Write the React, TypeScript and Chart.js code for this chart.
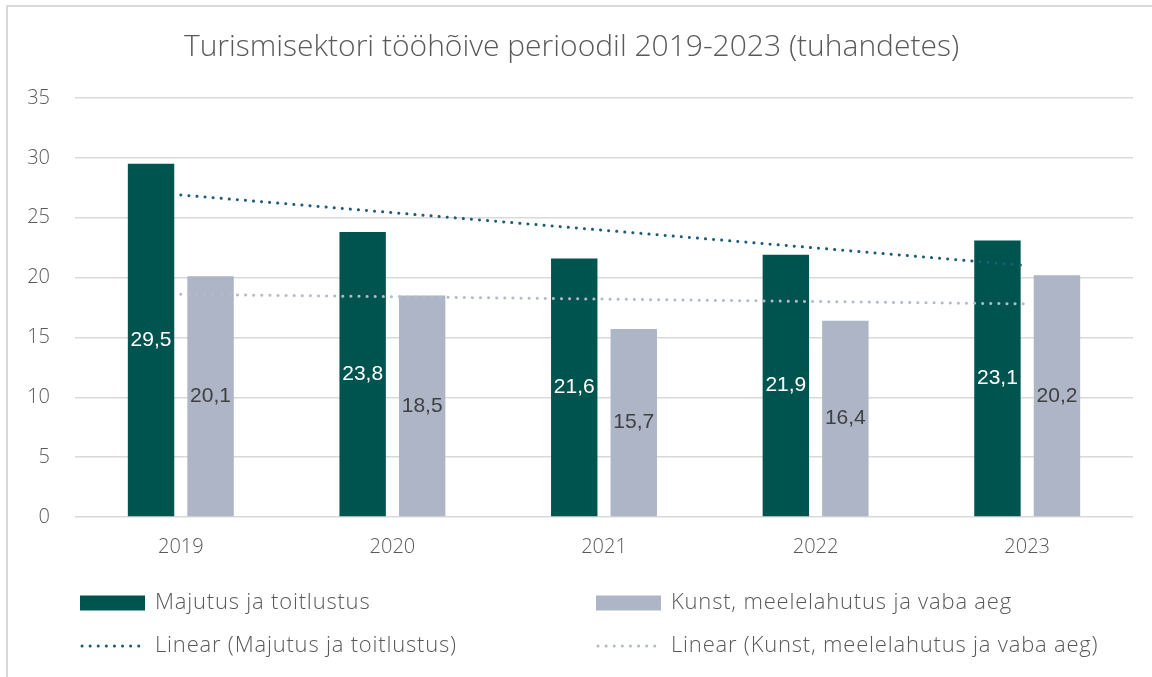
import React, { useEffect, useRef } from "react";
import { Chart, registerables } from "chart.js";

Chart.register(...registerables);

const TITLE = "Turismisektori tööhõive perioodil 2019-2023 (tuhandetes)";
const categories = ["2019", "2020", "2021", "2022", "2023"];
const majutus = [29.5, 23.8, 21.6, 21.9, 23.1];
const kunst = [20.1, 18.5, 15.7, 16.4, 20.2];
// trend lines (start at 2019, end at 2023)
const trendMajutus = [26.9, null, null, null, 21.0];
const trendKunst = [18.6, null, null, null, 17.8];
const yTicks = [0, 5, 10, 15, 20, 25, 30, 35];
const seriesNames = [
  "Majutus ja toitlustus",
  "Kunst, meelelahutus ja vaba aeg",
  "Linear (Majutus ja toitlustus)",
  "Linear (Kunst, meelelahutus ja vaba aeg)",
];

const DARK = "#005450";
const GREY = "#adb5c6";
const TREND_DARK = "#1d5c79";
const TREND_GREY = "#b3bbcb";
const TEXT = "#595959";
const GRID = "#d9d9d9";
const FONT = "'Open Sans', Lato, sans-serif";

const borderPlugin = {
  id: "outerBorder",
  beforeDraw(chart: any) {
    const ctx = chart.ctx;
    ctx.save();
    ctx.strokeStyle = GRID;
    ctx.lineWidth = 2;
    ctx.beginPath();
    ctx.moveTo(7, chart.height);
    ctx.lineTo(7, 6);
    ctx.lineTo(chart.width, 6);
    ctx.stroke();
    ctx.restore();
  },
};

const labelPlugin = {
  id: "barLabels",
  afterDatasetsDraw(chart: any) {
    const ctx = chart.ctx;
    ctx.save();
    ctx.font = "21px 'Liberation Sans', Arial, sans-serif";
    ctx.textAlign = "center";
    ctx.textBaseline = "middle";
    chart.data.datasets.forEach((ds: any, i: number) => {
      if (ds.type !== "bar") return;
      const meta = chart.getDatasetMeta(i);
      meta.data.forEach((bar: any, j: number) => {
        const v = ds.data[j];
        ctx.fillStyle = i === 0 ? "#ffffff" : "#404040";
        const y = (bar.y + bar.base) / 2;
        ctx.fillText(v.toFixed(1).replace(".", ","), bar.x, y);
      });
    });
    ctx.restore();
  },
};

const legendPlugin = {
  id: "customLegend",
  afterDraw(chart: any) {
    const ctx = chart.ctx;
    ctx.save();
    const cols = [80, 596];
    const rows = [603, 646];
    const ds = chart.data.datasets;
    ds.forEach((d: any, i: number) => {
      const x = cols[i % 2];
      const y = rows[Math.floor(i / 2)];
      if (d.type === "bar") {
        ctx.fillStyle = d.backgroundColor;
        ctx.fillRect(x, y - 7.5, 65, 15);
      } else {
        ctx.strokeStyle = d.borderColor;
        ctx.lineWidth = 3;
        ctx.lineCap = "round";
        ctx.setLineDash([0.1, 8]);
        ctx.beginPath();
        ctx.moveTo(x + 2, y);
        ctx.lineTo(x + 64, y);
        ctx.stroke();
        ctx.setLineDash([]);
      }
      ctx.fillStyle = TEXT;
      ctx.font = `300 22px ${FONT}`;
      (ctx as any).letterSpacing = "0.8px";
      ctx.textAlign = "left";
      ctx.textBaseline = "middle";
      ctx.fillText(d.label, x + 75, y);
      (ctx as any).letterSpacing = "0px";
    });
    ctx.restore();
  },
};

export default function App() {
  const ref = useRef<HTMLCanvasElement>(null);
  useEffect(() => {
    if (!ref.current) return;
    const chart = new Chart(ref.current, {
      type: "bar",
      data: {
        labels: categories,
        datasets: [
          {
            type: "bar",
            label: seriesNames[0],
            data: majutus,
            backgroundColor: DARK,
            categoryPercentage: 0.5625,
            barPercentage: 0.78,
            order: 2,
          },
          {
            type: "bar",
            label: seriesNames[1],
            data: kunst,
            backgroundColor: GREY,
            categoryPercentage: 0.5625,
            barPercentage: 0.78,
            order: 2,
          },
          {
            type: "line",
            label: seriesNames[2],
            data: trendMajutus,
            borderColor: TREND_DARK,
            borderWidth: 3,
            borderDash: [0.1, 8],
            borderCapStyle: "round",
            pointRadius: 0,
            spanGaps: true,
            fill: false,
            order: 0,
          },
          {
            type: "line",
            label: seriesNames[3],
            data: trendKunst,
            borderColor: TREND_GREY,
            borderWidth: 3,
            borderDash: [0.1, 8],
            borderCapStyle: "round",
            pointRadius: 0,
            spanGaps: true,
            fill: false,
            order: 1,
          },
        ] as any,
      },
      options: {
        animation: false,
        responsive: false,
        maintainAspectRatio: false,
        layout: { padding: { left: 10, right: 19, top: 0, bottom: 110 } },
        plugins: {
          legend: { display: false },
          tooltip: { enabled: false },
          title: {
            display: true,
            text: TITLE,
            color: TEXT,
            font: { family: FONT, size: 30, weight: "300" as any, lineHeight: 1.2 },
            padding: { top: 29, bottom: 33 },
          },
        },
        scales: {
          x: {
            offset: true,
            grid: { display: false, drawTicks: false },
            border: { display: false },
            ticks: { color: TEXT, font: { family: FONT, size: 20, weight: "300" as any }, padding: 18 },
            afterFit(scale: any) {
              scale.height = 50;
            },
          },
          y: {
            min: 0,
            max: 35,
            afterBuildTicks(scale: any) {
              scale.ticks = yTicks.map((v) => ({ value: v }));
            },
            grid: { color: GRID, lineWidth: 1.5, drawTicks: false },
            border: { display: false },
            ticks: { color: TEXT, font: { family: FONT, size: 20, weight: "300" as any }, padding: 25 },
            afterFit(scale: any) {
              scale.width = 65;
            },
          },
        },
      },
      plugins: [borderPlugin, labelPlugin, legendPlugin],
    });
    return () => chart.destroy();
  }, []);
  return (
    <div style={{ position: "fixed", left: 0, top: 0, width: 1152, height: 677, background: "#fff" }}>
      <canvas ref={ref} width={1152} height={677} style={{ width: 1152, height: 677, display: "block" }} />
    </div>
  );
}
